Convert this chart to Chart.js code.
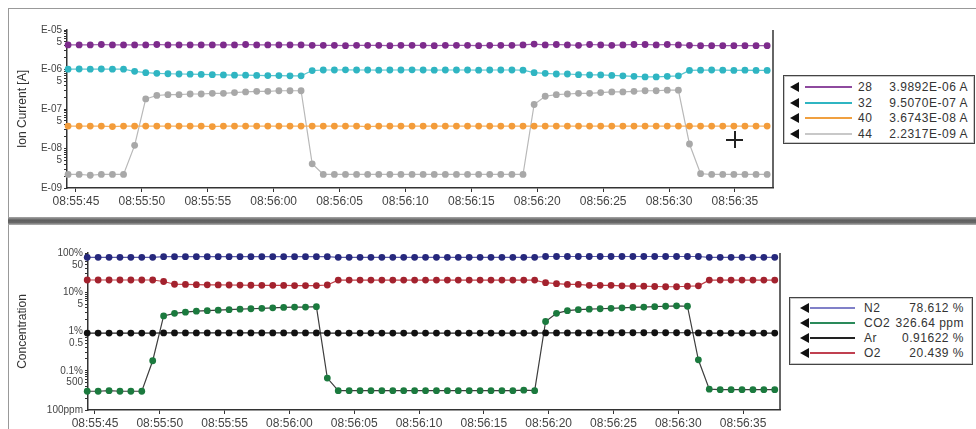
<!DOCTYPE html>
<html>
<head>
<meta charset="utf-8">
<script src="https://cdn.jsdelivr.net/npm/chart.js@4.4.0/dist/chart.umd.min.js"></script>
<style>
  body { margin: 0; width: 976px; height: 429px; background: #fff; position: relative; overflow: hidden; font-family: "Liberation Sans", Arial, sans-serif; }
  .frame-top { position: absolute; left: 8px; top: 8px; right: 0; height: 209px; border-left: 1.5px solid #999; border-top: 1.5px solid #999; }
  .frame-bottom { position: absolute; left: 8px; top: 225px; right: 0; bottom: 0; border-left: 1.5px solid #999; }
  .separator { position: absolute; left: 8px; right: 0; top: 217px; height: 8px; background: linear-gradient(#a8a8a8, #5e5e5e 40%, #686868 70%, #b4b4b4); }
  canvas { position: absolute; }
  #ionChart { left: 9px; top: 9px; }
  #concChart { left: 9px; top: 225px; }
  .legend { position: absolute; background: #fff; border: 1px solid #444; box-shadow: inset 0 0 0 1px #c8c8c8; font-size: 12px; color: #333; letter-spacing: 0.5px; }
  .row { position: absolute; left: 0; right: 0; height: 14px; line-height: 14px; }
  .tri { position: absolute; top: 2px; width: 0; height: 0; border-top: 5px solid transparent; border-bottom: 5px solid transparent; border-right: 9px solid #111; }
  .line { position: absolute; top: 6px; height: 2px; }
  .name { position: absolute; top: 0; }
  .value { position: absolute; top: 0; text-align: right; }
  .cursor { position: absolute; background: #222; }
</style>
</head>
<body>
<div class="frame-top"></div>
<div class="frame-bottom"></div>
<div class="separator"></div>
<canvas id="ionChart" width="967" height="208" style="width:967px;height:208px"></canvas>
<canvas id="concChart" width="967" height="204" style="width:967px;height:204px"></canvas>
<div class="legend" id="ionLegend" style="left:783px;top:75px;width:190px;height:67px"></div>
<div class="legend" id="concLegend" style="left:789px;top:297px;width:182px;height:66px"></div>
<div class="cursor" style="left:726px;top:139px;width:17px;height:1.5px"></div>
<div class="cursor" style="left:734px;top:131px;width:1.5px;height:17px"></div>
<script>
// time axis: seconds after 08:55:00
const xTickSeconds = [45, 50, 55, 60, 65, 70, 75, 80, 85, 90, 95];
const xTickLabels = ["08:55:45", "08:55:50", "08:55:55", "08:56:00", "08:56:05", "08:56:10", "08:56:15", "08:56:20", "08:56:25", "08:56:30", "08:56:35"];
const sampleStart = 44.4;
const sampleStep = 0.842;

// ion currents [A]
const ion28 = [4.2e-6, 4.2e-6, 4.2e-6, 4.3e-6, 4.2e-6, 4.2e-6, 4.2e-6, 4.2e-6, 4.3e-6, 4.2e-6, 4.2e-6, 4.2e-6, 4.2e-6, 4.2e-6, 4.2e-6, 4.2e-6, 4.3e-6, 4.2e-6, 4.2e-6, 4.2e-6, 4.2e-6, 4.2e-6,
  4.1e-6, 4.1e-6, 4.1e-6, 4.0e-6, 4.1e-6, 4.1e-6, 4.1e-6, 4.0e-6, 4.1e-6, 4.1e-6, 4.1e-6, 4.0e-6, 4.1e-6, 4.1e-6, 4.1e-6, 4.0e-6, 4.1e-6, 4.1e-6, 4.1e-6, 4.2e-6,
  4.4e-6, 4.2e-6, 4.3e-6, 4.2e-6, 4.1e-6, 4.3e-6, 4.2e-6, 4.1e-6, 4.2e-6, 4.3e-6, 4.3e-6, 4.2e-6, 4.3e-6, 4.2e-6, 4.1e-6,
  4.0e-6, 4.0e-6, 4.0e-6, 4.0e-6, 4.0e-6, 4.0e-6, 4.0e-6];
const ion32 = [1.02e-6, 1.03e-6, 1.02e-6, 1.03e-6, 1.02e-6, 1.02e-6, 9.0e-7,
  8.3e-7, 8.0e-7, 7.8e-7, 7.7e-7, 7.6e-7, 7.5e-7, 7.4e-7, 7.3e-7, 7.2e-7, 7.2e-7, 7.1e-7, 7.0e-7, 7.0e-7, 6.9e-7, 6.9e-7,
  9.4e-7,
  9.7e-7, 9.7e-7, 9.8e-7, 9.7e-7, 9.7e-7, 9.6e-7, 9.7e-7, 9.7e-7, 9.8e-7, 9.7e-7, 9.6e-7, 9.7e-7, 9.7e-7, 9.7e-7, 9.6e-7, 9.7e-7, 9.7e-7, 9.7e-7, 9.6e-7,
  8.3e-7, 8.0e-7, 7.7e-7, 7.7e-7, 7.4e-7, 7.3e-7, 7.3e-7, 7.1e-7, 6.9e-7, 6.7e-7, 6.5e-7, 6.5e-7, 6.7e-7, 6.9e-7,
  9.5e-7, 9.6e-7, 9.7e-7, 9.6e-7, 9.5e-7, 9.6e-7, 9.5e-7, 9.5e-7];
const ion40 = [3.7e-8, 3.7e-8, 3.7e-8, 3.7e-8, 3.6e-8, 3.7e-8, 3.7e-8, 3.7e-8, 3.7e-8, 3.7e-8, 3.7e-8, 3.7e-8, 3.7e-8, 3.6e-8, 3.7e-8, 3.7e-8,
  3.7e-8, 3.7e-8, 3.7e-8, 3.7e-8, 3.7e-8, 3.7e-8, 3.7e-8, 3.7e-8, 3.7e-8, 3.7e-8, 3.7e-8, 3.6e-8, 3.7e-8, 3.7e-8, 3.7e-8, 3.7e-8,
  3.7e-8, 3.7e-8, 3.7e-8, 3.7e-8, 3.7e-8, 3.7e-8, 3.7e-8, 3.7e-8, 3.7e-8, 3.7e-8, 3.7e-8, 3.7e-8, 3.7e-8, 3.7e-8, 3.7e-8, 3.7e-8,
  3.7e-8, 3.7e-8, 3.7e-8, 3.7e-8, 3.7e-8, 3.7e-8, 3.7e-8, 3.7e-8, 3.7e-8, 3.7e-8, 3.7e-8, 3.7e-8, 3.7e-8, 3.7e-8, 3.7e-8, 3.7e-8];
const ion44 = [2.2e-9, 2.2e-9, 2.1e-9, 2.2e-9, 2.2e-9, 2.2e-9, 1.2e-8,
  1.8e-7, 2.2e-7, 2.3e-7, 2.3e-7, 2.4e-7, 2.4e-7, 2.5e-7, 2.5e-7, 2.6e-7, 2.7e-7, 2.8e-7, 2.8e-7, 2.9e-7, 2.9e-7, 2.9e-7,
  4.1e-9,
  2.2e-9, 2.2e-9, 2.2e-9, 2.2e-9, 2.2e-9, 2.2e-9, 2.2e-9, 2.2e-9, 2.2e-9, 2.2e-9, 2.2e-9, 2.2e-9, 2.2e-9, 2.2e-9, 2.2e-9, 2.2e-9, 2.2e-9, 2.2e-9, 2.2e-9,
  1.3e-7, 2.1e-7, 2.3e-7, 2.4e-7, 2.5e-7, 2.5e-7, 2.6e-7, 2.7e-7, 2.7e-7, 2.8e-7, 2.9e-7, 2.9e-7, 3.0e-7, 3.0e-7,
  1.3e-8,
  2.3e-9, 2.2e-9, 2.2e-9, 2.2e-9, 2.2e-9, 2.2e-9, 2.2e-9];

// concentrations [%]
const concN2 = [77.5, 77.5, 77.5, 77.5, 77.5, 77.5, 77.5,
  80.5, 80.5, 80.5, 80.5, 80.5, 80.5, 80.5, 80.5, 80.5, 80.5, 80.5, 80.5, 80.5, 80.5, 80.5, 80.5,
  77.5, 77.5, 77.5, 77.5, 77.5, 77.5, 77.5, 77.5, 77.5, 77.5, 77.5, 77.5, 77.5, 77.5, 77.5, 77.5, 77.5, 77.5, 77.5,
  81.5, 81.5, 81.5, 81.5, 81.5, 81.5, 81.5, 81.5, 81.5, 81.5, 81.5, 81.5, 81.5, 81.5, 81.5,
  77.5, 77.5, 77.5, 77.5, 77.5, 77.5, 77.5];
const concCO2 = [0.030, 0.030, 0.031, 0.030, 0.030, 0.030, 0.18,
  2.5, 2.9, 3.1, 3.3, 3.4, 3.5, 3.6, 3.7, 3.8, 3.9, 4.0, 4.1, 4.2, 4.2, 4.3,
  0.065,
  0.031, 0.031, 0.031, 0.031, 0.031, 0.031, 0.031, 0.031, 0.031, 0.031, 0.031, 0.031, 0.031, 0.031, 0.031, 0.031, 0.031, 0.032, 0.031,
  1.8, 2.9, 3.4, 3.6, 3.7, 3.8, 3.9, 4.0, 4.1, 4.2, 4.3, 4.4, 4.5, 4.4,
  0.19,
  0.034, 0.033, 0.033, 0.033, 0.033, 0.033, 0.033];
const concAr = [0.91, 0.91, 0.91, 0.91, 0.91, 0.91, 0.91, 0.92, 0.92, 0.92, 0.92, 0.92, 0.92, 0.92, 0.92, 0.92,
  0.92, 0.92, 0.92, 0.92, 0.92, 0.92, 0.91, 0.91, 0.91, 0.91, 0.91, 0.91, 0.91, 0.91, 0.91, 0.91,
  0.91, 0.91, 0.91, 0.91, 0.91, 0.91, 0.91, 0.91, 0.91, 0.91, 0.92, 0.92, 0.92, 0.92, 0.92, 0.92,
  0.92, 0.93, 0.93, 0.93, 0.93, 0.93, 0.93, 0.93, 0.92, 0.91, 0.91, 0.91, 0.91, 0.91, 0.91, 0.91];
const concO2 = [20.5, 20.5, 20.5, 20.5, 20.5, 20.5, 20.5,
  18.8, 16.0, 15.8, 15.6, 15.5, 15.4, 15.3, 15.2, 15.1, 15.0, 15.0, 14.9, 14.8, 14.8, 14.8,
  15.3,
  20.4, 20.4, 20.4, 20.4, 20.4, 20.4, 20.4, 20.4, 20.4, 20.4, 20.4, 20.4, 20.4, 20.4, 20.4, 20.4, 20.4, 20.4, 20.4,
  17.5, 16.5, 15.8, 15.8, 15.0, 15.0, 15.0, 14.6, 14.3, 14.3, 14.0, 13.8, 13.8, 14.2, 14.6,
  20.4, 20.4, 20.4, 20.4, 20.4, 20.4, 20.4];

// y tick labels
const ionTickValues = [1e-5, 5e-6, 1e-6, 5e-7, 1e-7, 5e-8, 1e-8, 5e-9, 1e-9];
const ionTickLabels = ["E-05", "5", "E-06", "5", "E-07", "5", "E-08", "5", "E-09"];
const concTickValues = [100, 50, 10, 5, 1, 0.5, 0.1, 0.05, 0.01];
const concTickLabels = ["100%", "50", "10%", "5", "1%", "0.5", "0.1%", "500", "100ppm"];

// legends
const ionLegendNames = ["28", "32", "40", "44"];
const ionLegendValues = ["3.9892E-06 A", "9.5070E-07 A", "3.6743E-08 A", "2.2317E-09 A"];
const ionLegendColors = ["#8e4a9e", "#2fb5c2", "#f0a040", "#c8c8c8"];
const concLegendNames = ["N2", "CO2", "Ar", "O2"];
const concLegendValues = ["78.612 %", "326.64 ppm", "0.91622 %", "20.439 %"];
const concLegendColors = ["#8080c8", "#2a8a5a", "#222222", "#c04050"];

const toPoints = (values) => values.map((v, i) => ({ x: sampleStart + i * sampleStep, y: v }));

const lookupLabel = (value, tickValues, tickLabels) => {
  for (let i = 0; i < tickValues.length; i++) {
    if (Math.abs(Math.log10(value) - Math.log10(tickValues[i])) < 1e-6) return tickLabels[i];
  }
  return "";
};

// minor ticks 1..9 per decade
const logTicks = (min, max) => {
  const ticks = [];
  for (let e = Math.round(Math.log10(min)); e <= Math.round(Math.log10(max)); e++) {
    for (let m = 1; m < 10; m++) {
      const v = m * Math.pow(10, e);
      if (v >= min * 0.9999 && v <= max * 1.0001) ticks.push({ value: v });
    }
  }
  return ticks;
};

const rightEdge = {
  id: "rightEdge",
  afterDraw(chart) {
    const { ctx, chartArea } = chart;
    ctx.save();
    ctx.strokeStyle = "#333";
    ctx.lineWidth = 1.5;
    ctx.beginPath();
    ctx.moveTo(chartArea.right, chartArea.top);
    ctx.lineTo(chartArea.right, chartArea.bottom);
    ctx.stroke();
    ctx.restore();
  },
};

const makeDataset = (label, values, pointColor, lineColor) => ({
  label,
  data: toPoints(values),
  borderColor: lineColor,
  borderWidth: 1.2,
  pointRadius: 3.4,
  pointBackgroundColor: pointColor,
  pointBorderColor: pointColor,
  pointBorderWidth: 0,
  tension: 0,
  clip: false,
});

const timeAxis = (min, max, height) => ({
  type: "linear",
  min,
  max,
  afterBuildTicks: (scale) => {
    scale.ticks = xTickSeconds.map((v) => ({ value: v }));
  },
  afterFit: (scale) => {
    scale.height = height;
  },
  grid: { display: true, drawOnChartArea: false, drawTicks: true, tickLength: 4, color: "#333" },
  border: { display: true, color: "#333", width: 1.5 },
  ticks: {
    autoSkip: false,
    maxRotation: 0,
    padding: 2,
    color: "#444",
    font: { family: "Liberation Sans", size: 12 },
    callback: (value) => {
      const i = xTickSeconds.indexOf(value);
      return i >= 0 ? xTickLabels[i] : "";
    },
  },
});

const logAxis = (min, max, width, title, tickValues, tickLabels) => ({
  type: "logarithmic",
  min,
  max,
  afterBuildTicks: (scale) => {
    scale.ticks = logTicks(min, max);
  },
  afterFit: (scale) => {
    scale.width = width;
  },
  title: { display: true, text: title, color: "#333", font: { family: "Liberation Sans", size: 12 }, padding: { top: 6, bottom: 0 } },
  grid: { display: true, drawOnChartArea: false, drawTicks: true, tickLength: 3, color: "#333" },
  border: { display: true, color: "#333", width: 1.5 },
  ticks: {
    autoSkip: false,
    padding: 2,
    color: "#444",
    font: { family: "Liberation Sans", size: 10 },
    callback: (value) => lookupLabel(value, tickValues, tickLabels),
  },
});

//create ion current chart
new Chart(document.getElementById("ionChart"), {
  type: "line",
  data: {
    datasets: [
      makeDataset("28", ion28, "#7d2b8c", "#9a5aa8"),
      makeDataset("32", ion32, "#2fb5c2", "#5cc6d0"),
      makeDataset("40", ion40, "#f39c3a", "#f5b060"),
      makeDataset("44", ion44, "#a8a8a8", "#b8b8b8"),
    ],
  },
  options: {
    responsive: false,
    animation: false,
    layout: { padding: { top: 21, right: 203, bottom: 0, left: 0 } },
    plugins: { legend: { display: false }, tooltip: { enabled: false } },
    scales: {
      x: timeAxis(44.32, 97.89, 29),
      y: logAxis(1e-9, 1e-5, 58, "Ion Current [A]", ionTickValues, ionTickLabels),
    },
  },
  plugins: [rightEdge],
});

//create concentration chart
new Chart(document.getElementById("concChart"), {
  type: "line",
  data: {
    datasets: [
      makeDataset("N2", concN2, "#26287c", "#5a5aa8"),
      makeDataset("O2", concO2, "#a3222e", "#c04048"),
      makeDataset("Ar", concAr, "#111111", "#222222"),
      makeDataset("CO2", concCO2, "#1b7a3e", "#3d3d3d"),
    ],
  },
  options: {
    responsive: false,
    animation: false,
    layout: { padding: { top: 28, right: 196, bottom: 0, left: 0 } },
    plugins: { legend: { display: false }, tooltip: { enabled: false } },
    scales: {
      x: timeAxis(44.46, 97.85, 19),
      y: logAxis(0.01, 100, 79, "Concentration", concTickValues, concTickLabels),
    },
  },
  plugins: [rightEdge],
});

//create legends
const buildLegend = (id, names, values, colors, pos) => {
  const box = document.getElementById(id);
  names.forEach((name, i) => {
    const row = document.createElement("div");
    row.classList.add("row");
    row.style.top = `${pos.first + i * pos.step - 7}px`;
    const tri = document.createElement("div");
    tri.classList.add("tri");
    tri.style.left = `${pos.tri}px`;
    const line = document.createElement("div");
    line.classList.add("line");
    line.style.left = `${pos.line}px`;
    line.style.width = `${pos.lineWidth}px`;
    line.style.background = colors[i];
    const label = document.createElement("div");
    label.classList.add("name");
    label.style.left = `${pos.name}px`;
    label.textContent = name;
    const value = document.createElement("div");
    value.classList.add("value");
    value.style.right = `${pos.valueRight}px`;
    value.textContent = values[i];
    row.append(tri, line, label, value);
    box.append(row);
  });
};

buildLegend("ionLegend", ionLegendNames, ionLegendValues, ionLegendColors, { first: 11, step: 15.6, tri: 6, line: 21, lineWidth: 47, name: 74, valueRight: 6 });
buildLegend("concLegend", concLegendNames, concLegendValues, concLegendColors, { first: 10, step: 15, tri: 10, line: 20, lineWidth: 45, name: 74, valueRight: 8 });
</script>
</body>
</html>
